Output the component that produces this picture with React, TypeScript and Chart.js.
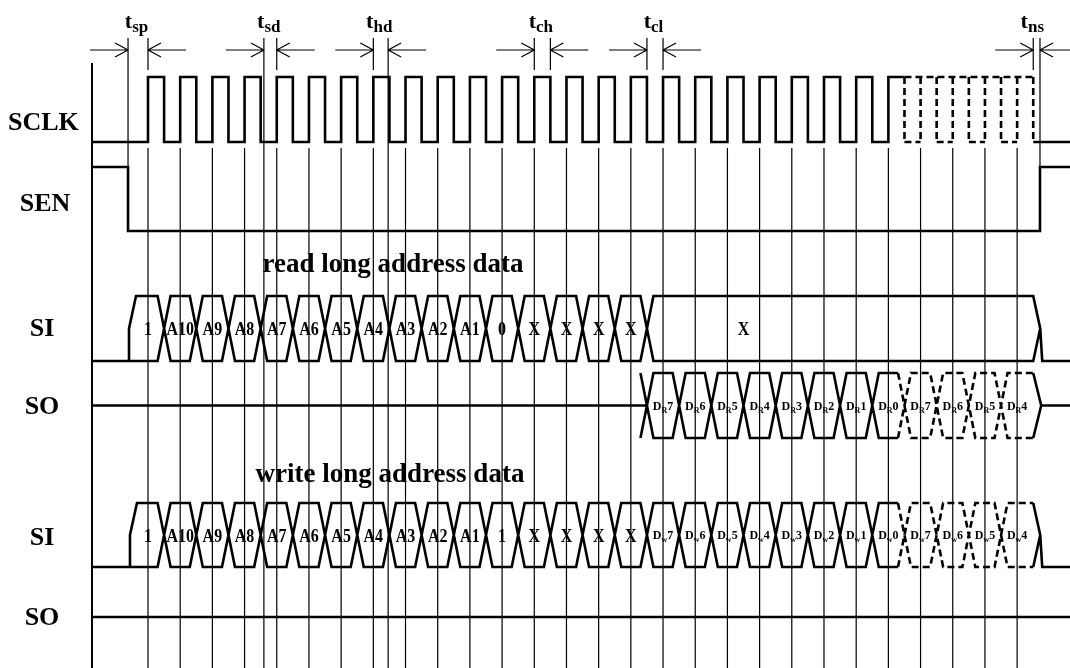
import React, { useEffect, useRef } from "react";
import { Chart, registerables } from "chart.js";

Chart.register(...registerables);

// ================= DATA =================
// time unit = one SCLK period, 0 = first rising edge
const CLOCK_EDGES = 28; // rising edges / bit slots
const SOLID_CLOCK_EDGES = 24; // slots drawn solid, the rest dashed
const DASHED_FROM_SLOT = 24;

const SEN_FALL = -0.62;
const SEN_RISE = 27.71;
const SI_READ_START = -0.59;
const SI_WRITE_START = -0.56;
const BUS_END = 27.5;

const SI_READ_BITS = ["1", "A10", "A9", "A8", "A7", "A6", "A5", "A4", "A3", "A2", "A1", "0", "X", "X", "X", "X"];
const SI_READ_TAIL = "X";
const SI_READ_TAIL_LABEL_AT = 18.5;
const SO_READ_FIRST_SLOT = 16;
const SO_READ_BITS = ["D_R7", "D_R6", "D_R5", "D_R4", "D_R3", "D_R2", "D_R1", "D_R0", "D_R7", "D_R6", "D_R5", "D_R4"];
const SI_WRITE_BITS = [
  "1", "A10", "A9", "A8", "A7", "A6", "A5", "A4", "A3", "A2", "A1", "1", "X", "X", "X", "X",
  "D_w7", "D_w6", "D_w5", "D_w4", "D_w3", "D_w2", "D_w1", "D_w0", "D_w7", "D_w6", "D_w5", "D_w4",
];

const ROW_LABELS = ["SCLK", "SEN", "SI", "SO", "SI", "SO"];
const SECTION_TITLES = ["read long address data", "write long address data"];

const TIMING_NAMES = ["sp", "sd", "hd", "ch", "cl", "ns"];
const TIMING_FROM = [-0.62, 3.6, 7, 12, 15.5, 27.5];
const TIMING_TO = [0, 4, 7.46, 12.5, 16, 27.71];
// how far each marker line reaches: "sen" = down to SEN, "full" = to bottom, "short" = tick only
const TIMING_FROM_LINE = ["sen", "full", "short", "short", "short", "short"];
const TIMING_TO_LINE = ["short", "short", "full", "short", "short", "sen"];

// ================= LAYOUT =================
const W = 1070;
const H = 668;
const PX_PER_SLOT = 32.19;
const FIRST_EDGE_PX = 148;
const u = (px: number) => (px - FIRST_EDGE_PX) / PX_PER_SLOT; // pixel -> time units
const X_MIN = u(0);
const X_MAX = u(W);
const AXIS_X = u(92);

const SCLK = { hi: 77, lo: 142 };
const SEN = { hi: 167, lo: 231 };
const SI_R = { top: 296, bot: 361 };
const SO_R = { top: 373, bot: 438 };
const SI_W = { top: 503, bot: 567 };
const SO_W_MID = 617;
const GRID_TOP = 148;
const AXIS_TOP = 63;
const MARK_TOP = 38;
const MARK_SHORT_BOTTOM = 70;
const ARROW_Y = 50;

const HW = 6.5 / PX_PER_SLOT;
const TIP = 7 / PX_PER_SLOT;
const TIP_RET = 9 / PX_PER_SLOT;
const TIP_MID = 8 / PX_PER_SLOT;
const ARROW_LEN = 38 / PX_PER_SLOT;
const ARROW_HEAD = 13 / PX_PER_SLOT;
const ARROW_HALF = 7;

const FONT = '"Liberation Serif", "Times New Roman", serif';

const ROW_LABEL_POS = [
  { x: 8, y: 130, align: "left" },
  { x: 45, y: 211, align: "center" },
  { x: 42, y: 336, align: "center" },
  { x: 42, y: 414, align: "center" },
  { x: 42, y: 545, align: "center" },
  { x: 42, y: 625, align: "center" },
];
const TITLE_POS = [
  { x: 393, y: 272 },
  { x: 390, y: 482 },
];

// ================= GEOMETRY BUILDERS =================
type Pt = [number, number];
type Seg = { pts: Pt[]; dashed: boolean };

class Pen {
  segs: Seg[] = [];
  private cur: Pt | null = null;
  private curSeg: Seg | null = null;
  move(x: number, y: number) {
    this.cur = [x, y];
    this.curSeg = null;
    return this;
  }
  line(x: number, y: number, dashed = false) {
    const p: Pt = [x, y];
    if (this.curSeg && this.curSeg.dashed === dashed) this.curSeg.pts.push(p);
    else {
      this.curSeg = { pts: [this.cur as Pt, p], dashed };
      this.segs.push(this.curSeg);
    }
    this.cur = p;
    return this;
  }
}

function buildBus(
  out: Seg[],
  T: number[],
  row: { top: number; bot: number },
  start: "rise" | "x",
  end: "fall" | "mid",
  slotOfCell: (i: number) => number
) {
  const mid = (row.top + row.bot) / 2;
  const n = T.length - 1;
  const A = new Pen();
  const B = new Pen();
  const extra = new Pen();
  const cellDashed = (i: number) => slotOfCell(i) >= DASHED_FROM_SLOT;
  const transDashed = (i: number) => T[i] >= DASHED_FROM_SLOT - 0.5 - 1e-9;
  let la = row.top;
  let lb = row.bot;
  if (start === "rise") {
    B.move(AXIS_X, row.bot).line(T[0], row.bot);
    A.move(T[0], row.bot).line(T[0], mid).line(T[0] + TIP, row.top);
  } else {
    extra.move(AXIS_X, mid).line(T[0], mid);
    A.move(T[0] - HW, row.bot).line(T[0] + HW, row.top);
    B.move(T[0] - HW, row.top).line(T[0] + HW, row.bot);
  }
  for (let i = 0; i < n; i++) {
    const right = i === n - 1 ? T[n] : T[i + 1] - HW;
    const d = cellDashed(i);
    A.line(right, la, d);
    B.line(right, lb, d);
    if (i < n - 1) {
      const td = transDashed(i + 1);
      A.line(T[i + 1] + HW, lb, td);
      B.line(T[i + 1] + HW, la, td);
      const t = la;
      la = lb;
      lb = t;
    }
  }
  const topRail = la === row.top ? A : B;
  const botRail = topRail === A ? B : A;
  if (end === "fall") {
    topRail.line(T[n] + TIP, mid).line(T[n] + TIP_RET, row.bot).line(X_MAX, row.bot);
    botRail.line(T[n] + TIP, mid);
  } else {
    topRail.line(T[n] + TIP_MID, mid).line(X_MAX, mid);
    botRail.line(T[n] + TIP_MID, mid);
  }
  out.push(...A.segs, ...B.segs, ...extra.segs);
}

function buildGeometry() {
  const wave: Seg[] = [];
  const thin: Seg[] = [];
  const axis: Seg[] = [];

  // SCLK
  const clk = new Pen();
  clk.move(AXIS_X, SCLK.lo);
  for (let k = 0; k < SOLID_CLOCK_EDGES; k++) {
    clk.line(k, SCLK.lo).line(k, SCLK.hi).line(k + 0.5, SCLK.hi);
    if (k < SOLID_CLOCK_EDGES - 1) clk.line(k + 0.5, SCLK.lo);
  }
  wave.push(...clk.segs);
  const lastSolidFall = SOLID_CLOCK_EDGES - 0.5;
  const lastFall = CLOCK_EDGES - 0.5;
  wave.push({ pts: [[lastSolidFall, SCLK.hi], [lastFall, SCLK.hi]], dashed: true });
  for (let x = lastSolidFall; x <= lastFall + 1e-9; x += 0.5) {
    wave.push({ pts: [[x, SCLK.hi], [x, SCLK.lo]], dashed: true });
  }
  for (let k = SOLID_CLOCK_EDGES; k < CLOCK_EDGES; k++) {
    wave.push({ pts: [[k - 0.5, SCLK.lo], [k, SCLK.lo]], dashed: true });
  }
  wave.push({ pts: [[lastFall, SCLK.lo], [X_MAX, SCLK.lo]], dashed: false });

  // SEN
  wave.push({
    pts: [
      [AXIS_X, SEN.hi], [SEN_FALL, SEN.hi], [SEN_FALL, SEN.lo],
      [SEN_RISE, SEN.lo], [SEN_RISE, SEN.hi], [X_MAX, SEN.hi],
    ],
    dashed: false,
  });

  // SI read
  const tRead = [SI_READ_START, ...SI_READ_BITS.map((_, i) => i + 0.5), BUS_END];
  buildBus(wave, tRead, SI_R, "rise", "fall", (i) => i);

  // SO read
  const tSoR = [...SO_READ_BITS.map((_, i) => SO_READ_FIRST_SLOT + i - 0.5), BUS_END];
  buildBus(wave, tSoR, SO_R, "x", "mid", (i) => SO_READ_FIRST_SLOT + i);

  // SI write
  const tWrite = [SI_WRITE_START, ...SI_WRITE_BITS.slice(0, -1).map((_, i) => i + 0.5), BUS_END];
  buildBus(wave, tWrite, SI_W, "rise", "fall", (i) => i);

  // SO write (idle)
  wave.push({ pts: [[AXIS_X, SO_W_MID], [X_MAX, SO_W_MID]], dashed: false });

  // grid lines on SCLK rising edges
  for (let k = 0; k < CLOCK_EDGES; k++) thin.push({ pts: [[k, GRID_TOP], [k, H]], dashed: false });

  // timing markers
  const lineBottom = (kind: string) => (kind === "full" ? H : kind === "sen" ? SEN.lo : MARK_SHORT_BOTTOM);
  TIMING_NAMES.forEach((_, i) => {
    const a = TIMING_FROM[i];
    const b = TIMING_TO[i];
    thin.push({ pts: [[a, MARK_TOP], [a, lineBottom(TIMING_FROM_LINE[i])]], dashed: false });
    thin.push({ pts: [[b, MARK_TOP], [b, lineBottom(TIMING_TO_LINE[i])]], dashed: false });
    thin.push({ pts: [[a - ARROW_LEN, ARROW_Y], [a, ARROW_Y]], dashed: false });
    thin.push({ pts: [[a - ARROW_HEAD, ARROW_Y - ARROW_HALF], [a, ARROW_Y], [a - ARROW_HEAD, ARROW_Y + ARROW_HALF]], dashed: false });
    thin.push({ pts: [[b + ARROW_LEN, ARROW_Y], [b, ARROW_Y]], dashed: false });
    thin.push({ pts: [[b + ARROW_HEAD, ARROW_Y - ARROW_HALF], [b, ARROW_Y], [b + ARROW_HEAD, ARROW_Y + ARROW_HALF]], dashed: false });
  });

  // left axis line
  axis.push({ pts: [[AXIS_X, AXIS_TOP], [AXIS_X, H]], dashed: false });

  return { wave, thin, axis };
}

function toDataset(segs: Seg[], width: number, dashed: boolean) {
  const data: { x: number | null; y: number | null }[] = [];
  segs
    .filter((s) => s.dashed === dashed)
    .forEach((s, i) => {
      if (i) data.push({ x: null, y: null });
      s.pts.forEach(([x, y]) => data.push({ x, y }));
    });
  return {
    data,
    showLine: true,
    borderColor: "#000",
    backgroundColor: "#000",
    borderWidth: width,
    borderDash: dashed ? [7, 4] : [],
    borderCapStyle: "butt",
    borderJoinStyle: "miter",
    pointRadius: 0,
    pointHoverRadius: 0,
    spanGaps: false,
    fill: false,
    clip: false,
    tension: 0,
  };
}

// ================= TEXT =================
function drawBitLabel(ctx: CanvasRenderingContext2D, label: string, cx: number, mid: number) {
  const m = /^D_(\w)(.*)$/.exec(label);
  ctx.textAlign = "left";
  ctx.textBaseline = "alphabetic";
  if (m) {
    const big = `bold 12px ${FONT}`;
    const small = `bold 8px ${FONT}`;
    ctx.font = big;
    const wD = ctx.measureText("D").width;
    const wN = ctx.measureText(m[2]).width;
    ctx.font = small;
    const wS = ctx.measureText(m[1]).width;
    let x = cx - (wD + wS + wN) / 2;
    const base = mid + 4;
    ctx.font = big;
    ctx.fillText("D", x, base);
    x += wD;
    ctx.font = small;
    ctx.fillText(m[1], x, base + 3);
    x += wS;
    ctx.font = big;
    ctx.fillText(m[2], x, base);
  } else {
    ctx.font = `bold 16px ${FONT}`;
    const w = ctx.measureText(label).width;
    ctx.save();
    ctx.translate(cx - w / 2, mid + 6.5);
    ctx.scale(1, 1.12);
    ctx.fillText(label, 0, 0);
    ctx.restore();
  }
}

const textPlugin = {
  id: "timingText",
  afterDatasetsDraw(chart: any) {
    const ctx: CanvasRenderingContext2D = chart.ctx;
    const xs = chart.scales.x;
    const ys = chart.scales.y;
    const px = (v: number) => xs.getPixelForValue(v);
    const py = (v: number) => ys.getPixelForValue(v);
    ctx.save();
    ctx.fillStyle = "#000";

    // row labels
    ctx.font = `bold 26px ${FONT}`;
    ctx.textBaseline = "alphabetic";
    ROW_LABELS.forEach((t, i) => {
      const p = ROW_LABEL_POS[i];
      ctx.textAlign = p.align as CanvasTextAlign;
      ctx.fillText(t, px(u(p.x)), py(p.y));
    });

    // section titles
    ctx.font = `bold 27px ${FONT}`;
    ctx.textAlign = "center";
    SECTION_TITLES.forEach((t, i) => {
      ctx.fillText(t, px(u(TITLE_POS[i].x)), py(TITLE_POS[i].y));
    });

    // timing labels
    ctx.textAlign = "left";
    TIMING_NAMES.forEach((name, i) => {
      const c = (px(TIMING_FROM[i]) + px(TIMING_TO[i])) / 2 - 1.5;
      ctx.font = `bold 22px ${FONT}`;
      const wt = ctx.measureText("t").width;
      ctx.font = `bold 17px ${FONT}`;
      const ws = ctx.measureText(name).width;
      let left = c - (wt + ws) / 2;
      if (left + wt + ws > W - 26) left = W - 26 - wt - ws;
      ctx.font = `bold 22px ${FONT}`;
      ctx.fillText("t", left, py(28));
      ctx.font = `bold 17px ${FONT}`;
      ctx.fillText(name, left + wt, py(32));
    });

    // bit labels
    const midR = (SI_R.top + SI_R.bot) / 2;
    SI_READ_BITS.forEach((b, i) => drawBitLabel(ctx, b, px(i), py(midR)));
    drawBitLabel(ctx, SI_READ_TAIL, px(SI_READ_TAIL_LABEL_AT), py(midR));
    const midSo = (SO_R.top + SO_R.bot) / 2;
    SO_READ_BITS.forEach((b, i) => drawBitLabel(ctx, b, px(SO_READ_FIRST_SLOT + i), py(midSo)));
    const midW = (SI_W.top + SI_W.bot) / 2;
    SI_WRITE_BITS.forEach((b, i) => drawBitLabel(ctx, b, px(i), py(midW)));

    ctx.restore();
  },
};

export default function App() {
  const ref = useRef<HTMLCanvasElement>(null);
  useEffect(() => {
    const canvas = ref.current;
    if (!canvas) return;
    const g = buildGeometry();
    const chart = new Chart(canvas, {
      type: "scatter",
      data: {
        datasets: [
          toDataset(g.thin, 1.2, false),
          toDataset(g.axis, 2, false),
          toDataset(g.wave, 2.6, false),
          toDataset(g.wave, 2.6, true),
        ] as any,
      },
      options: {
        responsive: false,
        animation: false,
        events: [],
        devicePixelRatio: 1,
        layout: { padding: 0 },
        plugins: {
          legend: { display: false },
          tooltip: { enabled: false },
          title: { display: false },
        },
        scales: {
          x: { type: "linear", display: false, min: X_MIN, max: X_MAX },
          y: { type: "linear", display: false, min: 0, max: H, reverse: true },
        },
      } as any,
      plugins: [textPlugin],
    });
    return () => chart.destroy();
  }, []);
  return (
    <div style={{ position: "absolute", left: 0, top: 0, width: W, height: H, background: "#fff" }}>
      <canvas ref={ref} width={W} height={H} style={{ display: "block" }} />
    </div>
  );
}
